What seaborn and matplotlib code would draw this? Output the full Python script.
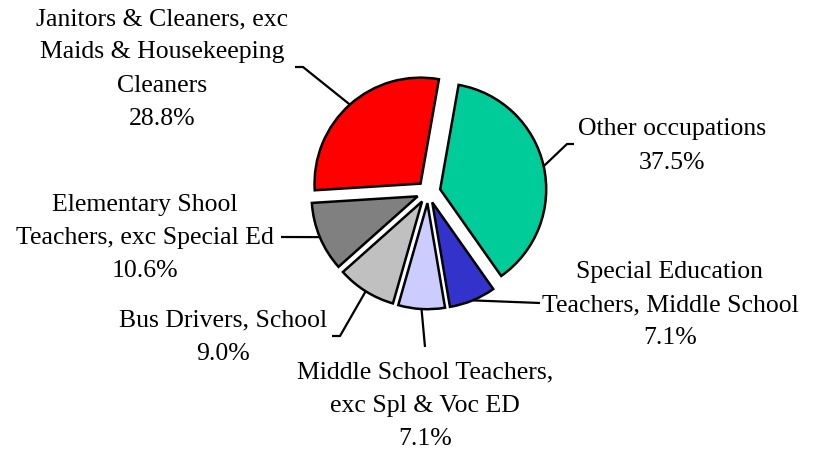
import numpy as np
import matplotlib
matplotlib.use("Agg")
import matplotlib.pyplot as plt
import seaborn as sns

# ---- data ----
categories = [
    "Other occupations",
    "Special Education\nTeachers, Middle School",
    "Middle School Teachers,\nexc Spl & Voc ED",
    "Bus Drivers, School",
    "Elementary Shool\nTeachers, exc Special Ed",
    "Janitors & Cleaners, exc\nMaids & Housekeeping\nCleaners",
]
shares = [37.5, 7.1, 7.1, 9.0, 10.6, 28.8]
colors = ["#00CC99", "#3333CC", "#CCCCFF", "#C0C0C0", "#808080", "#FF0000"]

# ---- layout (pixel coordinates, image y measured from top) ----
W, H = 815, 452
CX, CY, R = 428, 193, 106
explode_px = [12.5, 11.2, 11.2, 11.2, 11.2, 11.2]
label_pos = [(672, 146), (670, 305), (425, 406), (223, 337), (145, 238), (162, 69)]
elbows = [[(567, 145), (574, 145)],
          [(540, 304)],
          [(425, 348)],
          [(340, 337), (332, 337)],
          [(281, 238)],
          [(303, 68), (295, 68)]]

sns.set_theme(style="white")
plt.rcParams["font.family"] = ["Liberation Serif", "DejaVu Serif"]

fig = plt.figure(figsize=(W / 100, H / 100), dpi=100)
ax = fig.add_axes([0, 0, 1, 1])

wedges, _ = ax.pie(shares, colors=colors, explode=explode_px, startangle=80,
                   counterclock=False, radius=R, center=(CX, H - CY),
                   wedgeprops=dict(edgecolor="black", linewidth=1.8))
ax.set_xlim(0, W)
ax.set_ylim(0, H)
ax.set_aspect("equal")
ax.axis("off")

for w, cat, val, (tx, ty), pts in zip(wedges, categories, shares, label_pos, elbows):
    mid = np.deg2rad((w.theta1 + w.theta2) / 2)
    sx = w.center[0] + w.r * np.cos(mid)
    sy = w.center[1] + w.r * np.sin(mid)
    xs = [sx] + [p[0] for p in pts]
    ys = [sy] + [H - p[1] for p in pts]
    ax.plot(xs, ys, color="black", lw=1.6, solid_capstyle="butt")
    ax.text(tx, H - ty, f"{cat}\n{val:.1f}%", ha="center", va="center",
            fontsize=18.5, linespacing=1.65, color="black")

fig.savefig("out.png", dpi=100)
